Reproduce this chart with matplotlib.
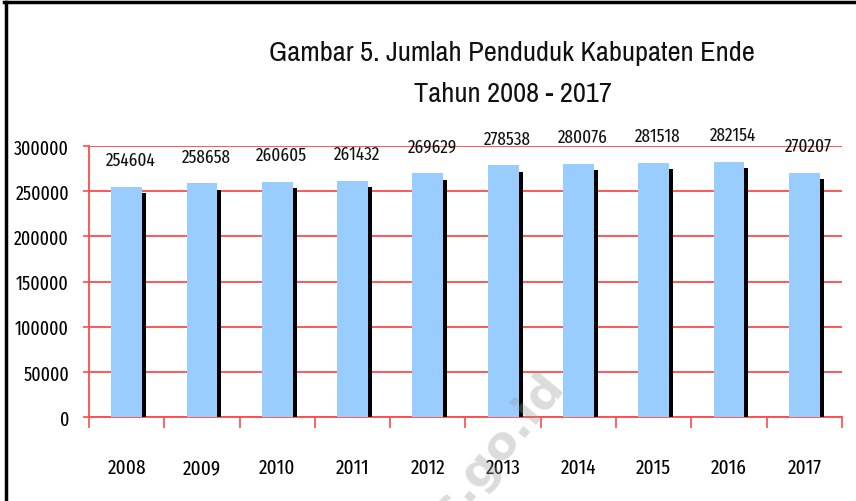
import matplotlib
matplotlib.use("Agg")
import matplotlib.pyplot as plt
import matplotlib.patheffects as pe
from matplotlib.lines import Line2D

years = ["2008", "2009", "2010", "2011", "2012", "2013", "2014", "2015", "2016", "2017"]
population = [254604, 258658, 260605, 261432, 269629, 278538, 280076, 281518, 282154, 270207]
yticks = [0, 50000, 100000, 150000, 200000, 250000, 300000]

plt.rcParams['font.family'] = ['Fira Sans Extra Condensed', 'Carlito', 'DejaVu Sans']
plt.rcParams['font.weight'] = 'normal'

fig = plt.figure(figsize=(8.56, 5.02), dpi=100)
ax = fig.add_axes([0.104, 0.1673, 0.8796, 0.5399])

red = '#ff4a4a'
x = range(len(years))
bars = ax.bar(x, population, width=0.41, color='#99ccff', zorder=3)
# black drop shadow on the right of each bar
for b in bars:
    b.set_path_effects([pe.SimplePatchShadow(offset=(2.9, -4.6), shadow_rgbFace='black', alpha=1.0),
                        pe.Normal()])

for xi, v in zip(x, population):
    ax.annotate(str(v), (xi, v), xytext=(3, 13), textcoords='offset points',
                ha='center', va='bottom', fontsize=13.5, color='#111111', zorder=5)

ax.set_xlim(-0.5, len(years) - 0.5)
ax.set_ylim(0, 300000)
ax.set_yticks(yticks)
ax.set_yticklabels([str(t) for t in yticks], fontsize=14)
ax.yaxis.grid(True, color=red, linewidth=1.3, zorder=0)
ax.set_axisbelow(True)

# category boundaries as x ticks, labels in the middle
ax.set_xticks([i - 0.5 for i in range(len(years) + 1)])
ax.set_xticklabels([])
ax.set_xticks(list(x), minor=True)
ax.set_xticklabels(years, minor=True, fontsize=15)
ax.tick_params(axis='x', which='major', length=8, color=red, width=1.2, direction='out')
ax.tick_params(axis='x', which='minor', length=0, pad=29)
ax.tick_params(axis='y', length=4.5, color=red, width=1.2, pad=10)

for s in ['top', 'right']:
    ax.spines[s].set_visible(False)
for s in ['left', 'bottom']:
    ax.spines[s].set_color(red)
    ax.spines[s].set_linewidth(1.3)

title_font = dict(ha='center', va='baseline', fontsize=20.5, fontweight='normal', color='#111111',
                  family=['Archivo Narrow', 'DejaVu Sans'])
fig.text(512 / 856, 1 - 61 / 502, "Gambar 5. Jumlah Penduduk Kabupaten Ende", **title_font)
fig.text(513 / 856, 1 - 102 / 502, "Tahun 2008 - 2017", **title_font)

# watermark
fig.text(555 / 856, 1 - 378 / 502, "bps.go.id", rotation=50, rotation_mode='anchor',
         ha='right', va='center', fontsize=34, fontweight='bold',
         color='#9a9a9a', alpha=0.35, family='DejaVu Sans', zorder=10)

# outer frame (left and top)
fig.add_artist(Line2D([0.0065, 0.0065], [0, 0.995], transform=fig.transFigure, color='black', linewidth=2.5))
fig.add_artist(Line2D([0.005, 1.0], [0.995, 0.995], transform=fig.transFigure, color='black', linewidth=2.5))

fig.savefig('out.png', dpi=100, facecolor='white')
